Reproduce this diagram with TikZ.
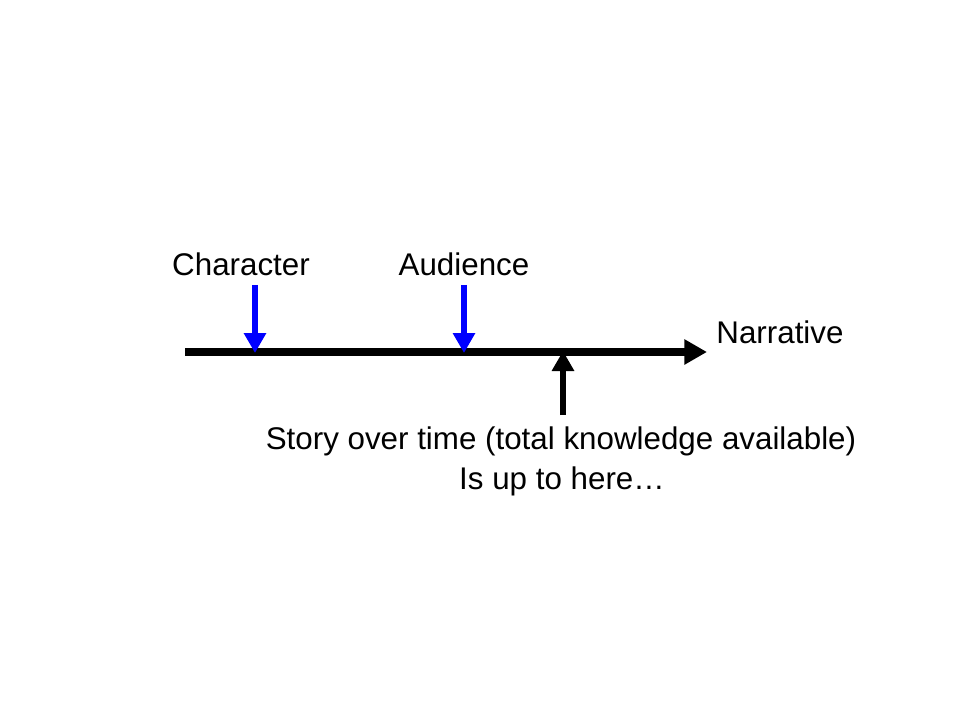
\documentclass[tikz,border=0pt]{standalone}
\usepackage{fontspec}
\setmainfont{Liberation Sans}
\usepackage{tikz}
\usetikzlibrary{arrows.meta,positioning}

\begin{document}
\begin{tikzpicture}[x=0.75pt,y=-0.75pt,
  label/.style={font=\fontsize{23.5}{28}\selectfont,inner sep=0pt,anchor=base},
  timeline/.style={line width=5.5pt,-{Triangle[length=17pt,width=18pt]}},
  marker/.style={line width=4.3pt,-{Triangle[length=15pt,width=16pt]}}]
\useasboundingbox (0,0) rectangle (960,720);
% the narrative line
\coordinate (start) at (185,352);
\coordinate (finish) at (707,352);
\draw[timeline] (start) -- (finish);
\node[label] (narrative) at (780,343) {Narrative};
% character and audience
\node[label] (character) at (241,276) {Character};
\node[label] (audience) at (464,276) {Audience};
\coordinate (charTop) at (255,285);
\coordinate (charTip) at (255,353);
\coordinate (audTop) at (464,285);
\coordinate (audTip) at (464,353);
\draw[marker,blue] (charTop) -- (charTip);
\draw[marker,blue] (audTop) -- (audTip);
% the story so far
\coordinate (storyFoot) at (563,415);
\coordinate (storyTip) at (563,351);
\draw[marker] (storyFoot) -- (storyTip);
\node[label] (story) at (561,449) {Story over time (total knowledge available)};
\node[label] (uptohere) at (562,489) {Is up to here…};
\end{tikzpicture}
\end{document}
